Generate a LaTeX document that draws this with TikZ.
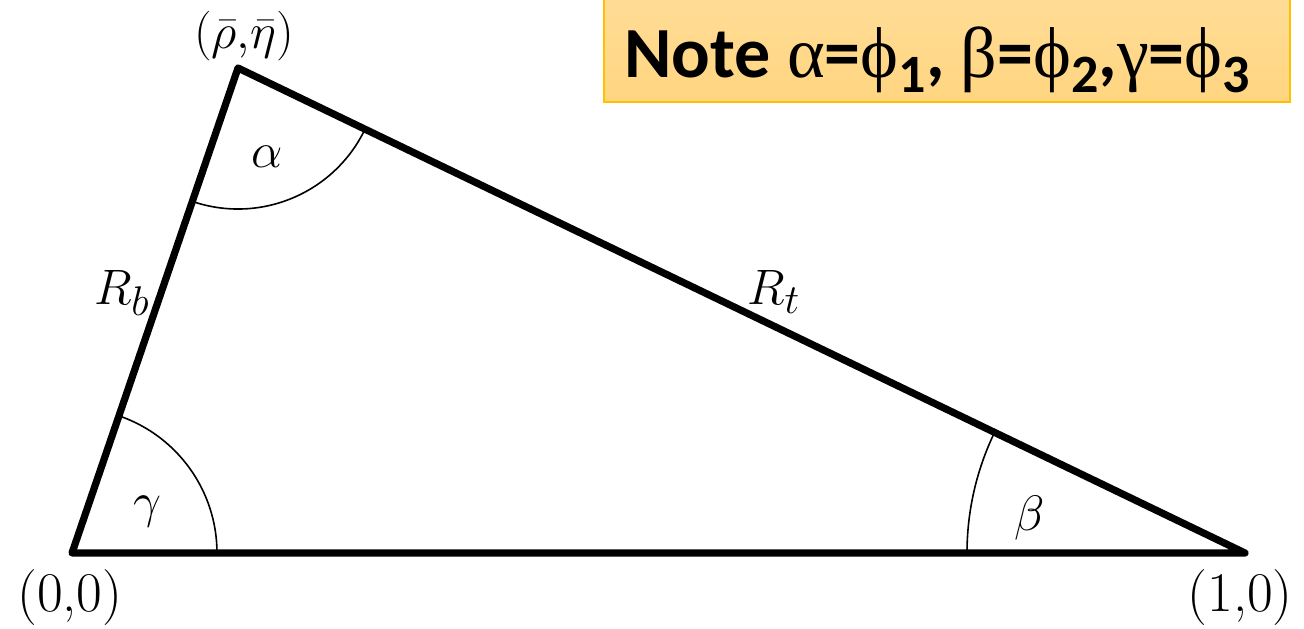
\documentclass[tikz,border=0pt]{standalone}
\usepackage{fontspec}
\usetikzlibrary{angles}
\newfontfamily\notefont{Carlito}
\newfontfamily\grk{Liberation Serif}
\newcommand{\nsub}[1]{\raisebox{-0.2em}{\fontsize{27}{27}\selectfont #1}}
\begin{document}
\begin{tikzpicture}[x=0.5pt,y=-0.5pt,
  side/.style={line width=3.6pt, line join=round, line cap=round},
  angarc/.style={draw, line width=0.8pt},
  lbl/.style={font=\fontsize{28}{34}\selectfont, inner sep=0pt},
  notebox/.style={draw={rgb,255:red,255;green,192;blue,0}, line width=0.8pt,
    top color={rgb,255:red,255;green,220;blue,150}, bottom color={rgb,255:red,255;green,213;blue,128},
    minimum width=343pt, minimum height=51.5pt, inner sep=0pt}]
\useasboundingbox (0,0) rectangle (1304,628);
\coordinate (O) at (72,553);
\coordinate (A) at (238,68);
\coordinate (B) at (1245,553);
\draw[side] (O) -- (A) -- (B) -- cycle;
\pic[angarc, angle radius=72.5pt] {angle = B--O--A};
\pic[angarc, angle radius=70.5pt] {angle = O--A--B};
\pic[angarc, angle radius=139pt] {angle = A--B--O};
\node[lbl] (al) at (267,157) {$\alpha$};
\node[lbl] (ga) at (147,512) {$\gamma$};
\node[lbl] (be) at (1030,518) {$\beta$};
\node[lbl] (rb) at (122,293) {$R_b$};
\node[lbl] (rt) at (774,292) {$R_t$};
\node[lbl] (lA) at (244,36) {$(\bar\rho{,}\bar\eta)$};
\node[lbl] (lO) at (70,598) {(0,0)};
\node[lbl] (lB) at (1240,598) {(1,0)};
\node[notebox] (note) at (947,50.5) {};
\node[anchor=west, inner sep=0pt, font=\notefont\bfseries\fontsize{36}{42}\selectfont] (nt) at (624,60)
  {Note {\grk\mdseries α}={\grk\mdseries ϕ}\nsub{1}, {\grk\mdseries β}={\grk\mdseries ϕ}\nsub{2},{\grk\mdseries γ}={\grk\mdseries ϕ}\nsub{3}};
\end{tikzpicture}
\end{document}
